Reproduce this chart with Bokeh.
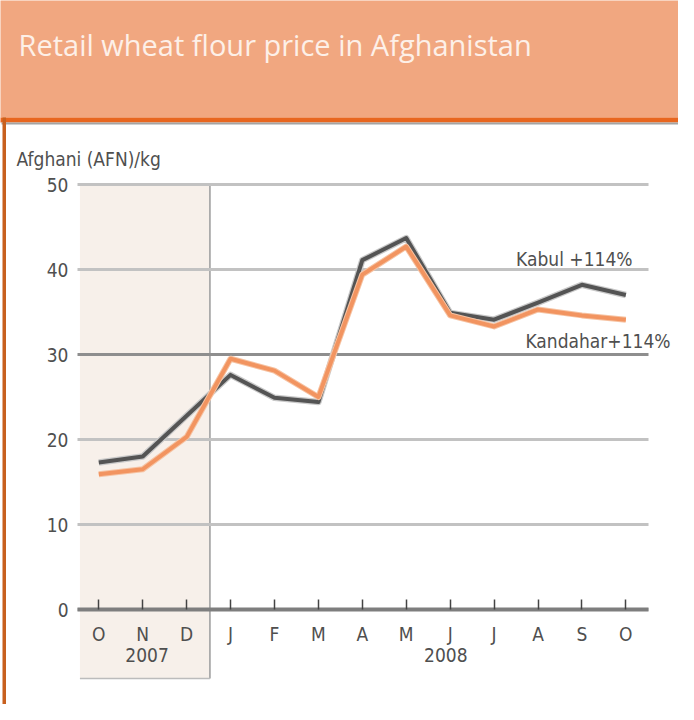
from bokeh.plotting import figure
from bokeh.models import Range1d, FixedTicker, BoxAnnotation, Label, LinearAxis
from bokeh.embed import file_html
from bokeh.resources import INLINE

# ---- data ----
months = ["O", "N", "D", "J", "F", "M", "A", "M", "J", "J", "A", "S", "O"]
month_idx = list(range(len(months)))
kabul = [17.3, 18.0, 22.8, 27.6, 24.9, 24.4, 41.1, 43.7, 34.9, 34.1, 36.1, 38.2, 37.0]
kandahar = [15.9, 16.5, 20.3, 29.5, 28.1, 25.0, 39.4, 42.7, 34.6, 33.3, 35.3, 34.6, 34.1]
y_ticks = [0, 10, 20, 30, 40, 50]
years = ["2007", "2008"]
year_centers = [1.1, 7.9]          # in month-index units
shaded_span = [-0.43, 2.53]        # 2007 part of the time axis, month-index units
kabul_label = "Kabul +114%"
kandahar_label = "Kandahar+114%"
title_text = "Retail wheat flour price in Afghanistan"
y_title = "Afghani (AFN)/kg"

# ---- layout helpers (page pixel -> data) ----
W, H = 678, 704
X0_PAGE, DX = 106.3, 43.92      # page x of first month, px per month
Y0_PAGE, DY = 617.0, 8.5        # page y of value 0, px per unit


def px(x_page):
    return (x_page - X0_PAGE) / DX


def py(y_page):
    return (Y0_PAGE - y_page) / DY


PLOT_L, PLOT_R = 85, 656        # page x extent of the plotting area

p = figure(width=W, height=H, output_backend="svg", toolbar_location=None,
           x_range=Range1d(px(8), px(8 + W)),
           y_range=Range1d(py(8 + H), py(8)),
           x_axis_location=None, y_axis_location=None,
           min_border=0)
p.outline_line_color = None
p.background_fill_color = "white"
p.border_fill_color = "white"
p.xgrid.visible = False
p.ygrid.visible = False

FONT = "DejaVu Sans Condensed"
TXT = "#4f4f4f"
FS = "19px"

# ---- decoration: header band, borders ----
p.add_layout(BoxAnnotation(left=px(0), right=px(720), top=py(0), bottom=py(125),
                           fill_color="#f1a780", fill_alpha=1, line_color=None, level="image"))
p.add_layout(BoxAnnotation(left=px(0), right=px(720), top=py(125), bottom=py(130),
                           fill_color="#e8661f", fill_alpha=1, line_color=None, level="image"))
p.add_layout(BoxAnnotation(left=px(9), right=px(720), top=py(130), bottom=py(132),
                           fill_color="#a4a4a4", fill_alpha=1, line_color=None, level="image"))
p.add_layout(BoxAnnotation(left=px(10), right=px(13.5), top=py(125), bottom=py(740),
                           fill_color="#c8601e", fill_alpha=1, line_color=None, level="image"))

# ---- 2007 shaded area ----
top_sh, bot_sh = py(192), py(686)
p.add_layout(BoxAnnotation(left=shaded_span[0], right=shaded_span[1], top=top_sh, bottom=bot_sh,
                           fill_color="#f7f0ea", fill_alpha=1, line_color=None, level="image"))
p.add_layout(BoxAnnotation(left=shaded_span[1] - 0.02, right=shaded_span[1] + 0.02,
                           top=top_sh, bottom=bot_sh,
                           fill_color="#a8a8a8", fill_alpha=1, line_color=None, level="image"))
p.add_layout(BoxAnnotation(left=shaded_span[0], right=shaded_span[1],
                           top=bot_sh + 0.1, bottom=bot_sh - 0.1,
                           fill_color="#bcbcbc", fill_alpha=1, line_color=None, level="image"))

# ---- horizontal gridlines (30 drawn darker) ----
grid_colors = ["#c2c2c2" if t != 30 else "#8e8e8e" for t in y_ticks]
p.segment(x0=[px(PLOT_L)] * len(y_ticks), x1=[px(PLOT_R)] * len(y_ticks),
          y0=y_ticks, y1=y_ticks, line_color=grid_colors, line_width=3)

# ---- axes (fixed inside the frame) ----
xaxis = LinearAxis(fixed_location=0, bounds=(px(PLOT_L), px(PLOT_R)))
xaxis.ticker = FixedTicker(ticks=month_idx)
xaxis.major_label_overrides = {i: m for i, m in zip(month_idx, months)}
xaxis.axis_line_color = "#7e7e7e"
xaxis.axis_line_width = 4
xaxis.major_tick_in = 10
xaxis.major_tick_out = 0
xaxis.major_tick_line_color = "#444444"
xaxis.major_tick_line_width = 1.5
xaxis.minor_tick_line_color = None
xaxis.major_label_standoff = 13
xaxis.major_label_text_font = FONT
xaxis.major_label_text_font_size = FS
xaxis.major_label_text_color = TXT
p.add_layout(xaxis, "below")

yaxis = LinearAxis(fixed_location=px(PLOT_L))
yaxis.ticker = FixedTicker(ticks=y_ticks)
yaxis.axis_line_color = None
yaxis.major_tick_line_color = None
yaxis.major_tick_out = 0
yaxis.major_tick_in = 0
yaxis.minor_tick_line_color = None
yaxis.major_label_standoff = 9
yaxis.major_label_text_font = FONT
yaxis.major_label_text_font_size = FS
yaxis.major_label_text_color = TXT
p.add_layout(yaxis, "left")

# ---- series ----
p.line(month_idx, kabul, line_color="#c9c9c9", line_width=6.5, line_join="round")
p.line(month_idx, kabul, line_color="#545454", line_width=4, line_join="round")
p.line(month_idx, kandahar, line_color="#f6c3a3", line_width=6, line_join="round")
p.line(month_idx, kandahar, line_color="#f29460", line_width=4, line_join="round")

# ---- texts ----
p.add_layout(Label(x=px(26), y=py(52), text=title_text, text_align="left",
                   text_baseline="middle", text_font="Open Sans", text_font_size="29px",
                   text_color="#fdf0e8"))
p.add_layout(Label(x=px(24), y=py(166), text=y_title, text_align="left",
                   text_baseline="middle", text_font=FONT, text_font_size=FS,
                   text_color=TXT))
for yr, xc in zip(years, year_centers):
    p.add_layout(Label(x=xc, y=py(662), text=yr, text_align="center",
                       text_baseline="middle", text_font=FONT, text_font_size=FS,
                       text_color=TXT))
p.add_layout(Label(x=px(640), y=py(266), text=kabul_label, text_align="right",
                   text_baseline="middle", text_font=FONT, text_font_size=FS,
                   text_color=TXT))
p.add_layout(Label(x=px(678), y=py(348), text=kandahar_label, text_align="right",
                   text_baseline="middle", text_font=FONT, text_font_size=FS,
                   text_color=TXT))

open("out.html", "w").write(file_html(p, INLINE))
